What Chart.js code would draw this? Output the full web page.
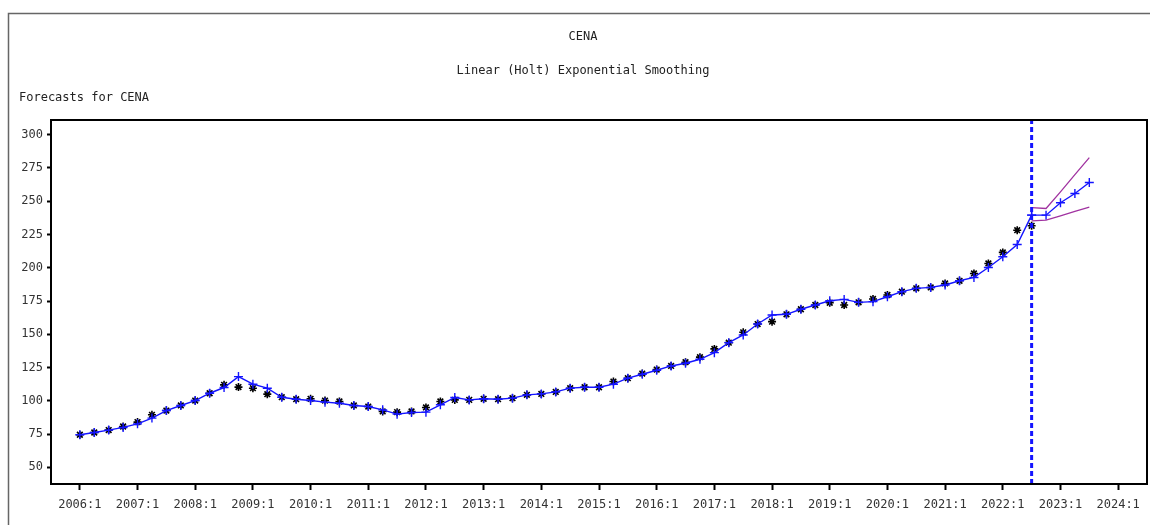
<!DOCTYPE html>
<html>
<head>
<meta charset="utf-8">
<script src="https://cdn.jsdelivr.net/npm/chart.js@4.4.1/dist/chart.umd.min.js"></script>
<style>
  body { margin: 0; background: #fff; }
</style>
</head>
<body>
<canvas id="grafico" width="1150" height="525"></canvas>
<script>
// quarterly data, index 0 = 2006:1
let actual = [
  74.5, 76.2, 78, 80.7, 84, 89.5, 92.7, 96.5, 100.2, 105.7,
  112, 110.3, 109.5, 105, 102.7, 101.2, 101.5, 100.2, 99.5, 96.5,
  95.7, 92, 91.5, 92, 95, 99.5, 100.7, 100.7, 101.5, 101.2,
  102, 104.5, 105.2, 106.7, 109.5, 110.2, 110.2, 114.5, 117, 120.5,
  123.5, 126.2, 129, 132.8, 139, 143.7, 151.5, 157.7, 159.5, 165,
  168.8, 172, 173.7, 172, 174, 176.5, 179.5, 182, 184.5, 185.2,
  188.2, 190.2, 195.7, 203.2, 211.5, 228.2, 231.5,
];

let fitted = [
  74.5, 76.2, 78, 80, 82.7, 87, 92.7, 96.5, 100.2, 105.7,
  110, 118.2, 112.5, 109.5, 102.7, 101.2, 100.2, 99, 98.2, 96.5,
  95.7, 93.2, 90, 91.2, 91.5, 97, 102.5, 100.7, 101.5, 101.2,
  102, 104.5, 105.2, 106.7, 109.5, 110.2, 110.2, 112.5, 117, 120,
  123, 126.2, 128.2, 131.2, 136.2, 143.7, 149.5, 157.7, 164.5, 165,
  168.8, 172, 175.2, 176.2, 174, 174.5, 178.2, 182, 184.5, 185.2,
  187, 190.2, 192.7, 200.2, 208.2, 217.5, 239.5,
];

// forecast from 2022:3 to 2023:3
let forecastStart = 66;
let forecast = [239.5, 239.5, 248.8, 255.8, 264];
let upper = [245.2, 244.5, 257, 270, 282.7];
let lower = [235.2, 235.7, 239, 242.4, 245.5];

let xTickLabels = [
  "2006:1", "2007:1", "2008:1", "2009:1", "2010:1", "2011:1", "2012:1",
  "2013:1", "2014:1", "2015:1", "2016:1", "2017:1", "2018:1", "2019:1",
  "2020:1", "2021:1", "2022:1", "2023:1", "2024:1",
];
let yTicks = [50, 75, 100, 125, 150, 175, 200, 225, 250, 275, 300];

let blue = "rgb(20,20,255)";
let purple = "rgb(160,50,160)";
let mono = "'DejaVu Sans Mono', monospace";

let toPoints = (arr, start) => arr.map((v, i) => ({ x: start + i, y: v }));

let yMin = 37.5;
let yMax = 311;

let framePlugin = {
  id: "frame",
  beforeDraw(chart) {
    let ctx = chart.ctx;
    ctx.save();
    ctx.strokeStyle = "#666";
    ctx.lineWidth = 1.5;
    ctx.strokeRect(8.5, 13.5, 1200, 600);
    ctx.restore();
  },
  afterDraw(chart) {
    let a = chart.chartArea;
    let ctx = chart.ctx;
    ctx.save();
    ctx.strokeStyle = "#000";
    ctx.lineWidth = 2;
    ctx.strokeRect(a.left, a.top, a.right - a.left, a.bottom - a.top);
    ctx.restore();
  },
};

new Chart(document.getElementById("grafico"), {
  type: "line",
  data: {
    datasets: [
      {
        data: [
          { x: forecastStart, y: yMin },
          { x: forecastStart, y: yMax },
        ],
        borderColor: blue,
        borderWidth: 3,
        borderDash: [5, 3],
        pointRadius: 0,
      },
      {
        data: toPoints(upper, forecastStart),
        borderColor: purple,
        borderWidth: 1.3,
        pointRadius: 0,
      },
      {
        data: toPoints(lower, forecastStart),
        borderColor: purple,
        borderWidth: 1.3,
        pointRadius: 0,
      },
      {
        data: toPoints(fitted, 0),
        borderColor: blue,
        borderWidth: 1.4,
        pointStyle: "cross",
        pointRadius: 4.5,
        pointBorderWidth: 1.4,
        pointBorderColor: blue,
      },
      {
        data: toPoints(forecast, forecastStart),
        borderColor: blue,
        borderWidth: 1.4,
        pointStyle: "cross",
        pointRadius: 4.5,
        pointBorderWidth: 1.4,
        pointBorderColor: blue,
      },
      {
        data: toPoints(actual, 0),
        showLine: false,
        pointStyle: "star",
        pointRadius: 4,
        pointBorderWidth: 1.6,
        pointBorderColor: "#000",
        pointBackgroundColor: "#000",
      },
    ],
  },
  options: {
    responsive: false,
    animation: false,
    layout: {
      autoPadding: false,
      padding: { left: 19, right: 3, top: 0, bottom: 0 },
    },
    plugins: {
      legend: { display: false },
      tooltip: { enabled: false },
      title: {
        display: true,
        text: ["CENA", "Linear (Holt) Exponential Smoothing"],
        color: "#222",
        font: { family: mono, size: 12, weight: "normal", lineHeight: 34 / 12 },
        padding: { top: 20, bottom: 0 },
      },
      subtitle: {
        display: true,
        text: "Forecasts for CENA",
        align: "start",
        color: "#222",
        font: { family: mono, size: 12, weight: "normal", lineHeight: 1.2 },
        padding: { top: 3, bottom: 14.6 },
      },
    },
    scales: {
      x: {
        type: "linear",
        min: -2,
        max: 74,
        afterBuildTicks: (scale) => {
          scale.ticks = xTickLabels.map((t, i) => ({ value: i * 4 }));
        },
        afterFit: (scale) => {
          scale.height = 41;
        },
        grid: {
          drawOnChartArea: false,
          drawTicks: true,
          tickLength: 6,
          tickWidth: 2,
          tickColor: "#000",
        },
        border: { display: false },
        ticks: {
          autoSkip: false,
          maxRotation: 0,
          padding: 8,
          color: "#333",
          font: { family: mono, size: 12 },
          callback: (value, index) => xTickLabels[index],
        },
      },
      y: {
        min: yMin,
        max: yMax,
        afterBuildTicks: (scale) => {
          scale.ticks = yTicks.map((v) => ({ value: v }));
        },
        afterFit: (scale) => {
          scale.width = 32;
        },
        grid: {
          drawOnChartArea: false,
          drawTicks: true,
          tickLength: 4,
          tickWidth: 2,
          tickColor: "#000",
        },
        border: { display: false },
        ticks: {
          padding: 4,
          color: "#333",
          font: { family: mono, size: 12 },
        },
      },
    },
  },
  plugins: [framePlugin],
});
</script>
</body>
</html>
